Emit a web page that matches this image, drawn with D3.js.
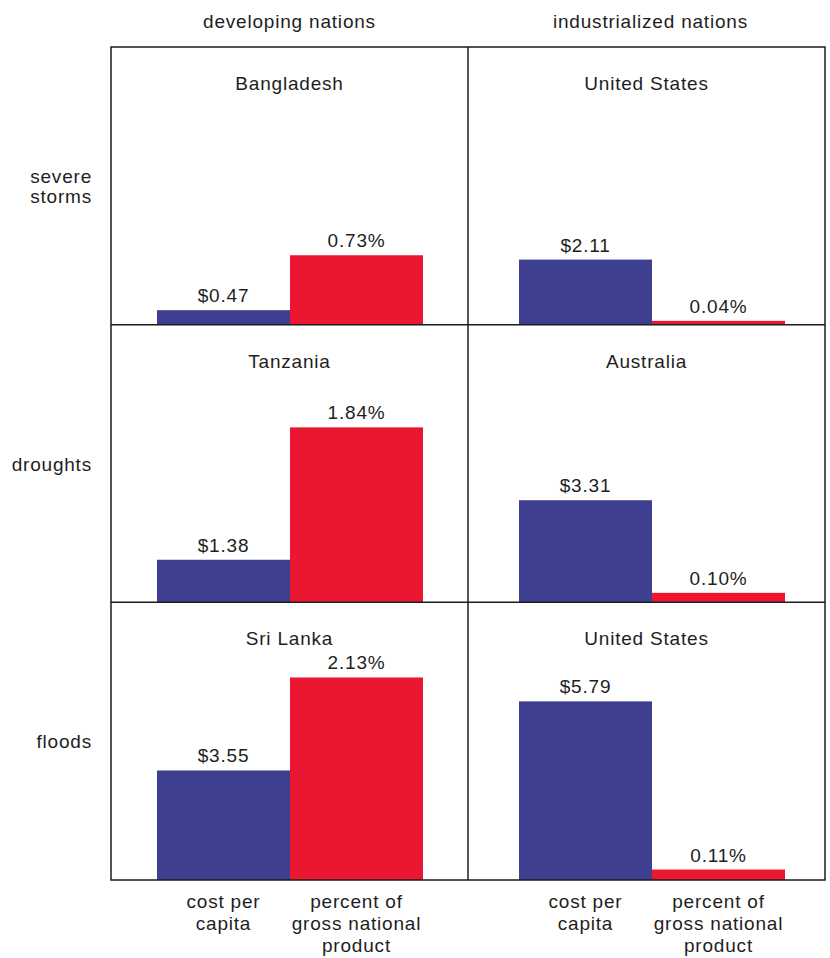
<!DOCTYPE html>
<html>
<head>
<meta charset="utf-8">
<script src="https://cdn.jsdelivr.net/npm/d3@7"></script>
<style>
  html, body { margin: 0; padding: 0; background: #fff; }
  svg { display: block; }
  text { font-family: "Liberation Sans", Arial, Helvetica, sans-serif; fill: #1e1e1e; letter-spacing: 0.8px; }
</style>
</head>
<body>
<svg id="chart" width="830" height="958"></svg>
<script>
// Economic cost of natural disasters: per-capita cost and share of GNP
const columns = ["developing nations", "industrialized nations"];
const rows = [["severe", "storms"], ["droughts"], ["floods"]];
const countries = [
  ["Bangladesh", "United States"],
  ["Tanzania", "Australia"],
  ["Sri Lanka", "United States"]
];
const costPerCapita = [
  [0.47, 2.11],
  [1.38, 3.31],
  [3.55, 5.79]
];
const percentGNP = [
  [0.73, 0.04],
  [1.84, 0.10],
  [2.13, 0.11]
];
const metrics = ["cost", "gnp"];
const metricLabels = [["cost per", "capita"], ["percent of", "gross national", "product"]];

const blue = "#3f3f91";
const red = "#eb1730";
const ink = "#1c1c1c";

const frame = { left: 111, right: 825, top: 47, bottom: 880 };

const svg = d3.select("#chart");

const colScale = d3.scaleBand().domain(d3.range(columns.length)).range([frame.left, frame.right]);
const rowScale = d3.scaleBand().domain(d3.range(rows.length)).range([frame.top, frame.bottom]);
const rowH = rowScale.bandwidth();

// Bar slots inside each panel (the right-hand panels sit a little further in)
const barInset = [46, 51];
const barScales = barInset.map(m => d3.scaleBand().domain(metrics).range([m, m + 266]).padding(0));

// Separate value scales for dollars and percent of GNP
const yCost = d3.scaleLinear().domain([0, 9]).range([0, rowH]);
const yGnp = d3.scaleLinear().domain([0, 2.92]).range([0, rowH]);

const fmtCost = d => "$" + d3.format(".2f")(d);
const fmtGnp = d => d3.format(".2f")(d) + "%";

// Column headers
svg.selectAll("text.col-head")
  .data(columns)
  .join("text")
  .attr("class", "col-head")
  .attr("x", (d, i) => colScale(i) + colScale.bandwidth() / 2 + (i === 1 ? 4 : 0))
  .attr("y", 28)
  .attr("text-anchor", "middle")
  .attr("font-size", 19)
  .text(d => d);

// Row labels
rows.forEach((lines, r) => {
  const cy = rowScale(r) + rowH / 2;
  svg.append("g").selectAll("text")
    .data(lines)
    .join("text")
    .attr("x", 92)
    .attr("y", (d, i) => cy + 7 + (i - (lines.length - 1) / 2) * 20)
    .attr("text-anchor", "end")
    .attr("font-size", 19)
    .text(d => d);
});

// Panels
rows.forEach((_, r) => {
  columns.forEach((__, c) => {
    const x0 = colScale(c);
    const top = rowScale(r);
    const base = top + rowH;
    const bx = barScales[c];
    const g = svg.append("g").attr("transform", `translate(${x0},0)`);

    g.append("text")
      .attr("x", colScale.bandwidth() / 2)
      .attr("y", top + 43)
      .attr("text-anchor", "middle")
      .attr("font-size", 19)
      .text(countries[r][c]);

    const bars = [
      { key: "cost", h: yCost(costPerCapita[r][c]), color: blue, label: fmtCost(costPerCapita[r][c]) },
      { key: "gnp", h: yGnp(percentGNP[r][c]), color: red, label: fmtGnp(percentGNP[r][c]) }
    ];

    g.selectAll("rect.bar")
      .data(bars)
      .join("rect")
      .attr("class", "bar")
      .attr("x", d => bx(d.key))
      .attr("width", bx.bandwidth())
      .attr("y", d => base - d.h)
      .attr("height", d => d.h)
      .attr("fill", d => d.color);

    g.selectAll("text.val")
      .data(bars)
      .join("text")
      .attr("class", "val")
      .attr("x", d => bx(d.key) + bx.bandwidth() / 2)
      .attr("y", d => base - d.h - 8)
      .attr("text-anchor", "middle")
      .attr("font-size", 19)
      .text(d => d.label);
  });
});

// Frame and dividers
const lines = svg.append("g").attr("stroke", ink).attr("stroke-width", 1.5).attr("fill", "none");
lines.append("rect")
  .attr("x", frame.left).attr("y", frame.top)
  .attr("width", frame.right - frame.left).attr("height", frame.bottom - frame.top);
lines.append("line")
  .attr("x1", colScale(1)).attr("x2", colScale(1))
  .attr("y1", frame.top).attr("y2", frame.bottom);
d3.range(1, rows.length).forEach(r => {
  lines.append("line")
    .attr("x1", frame.left).attr("x2", frame.right)
    .attr("y1", rowScale(r)).attr("y2", rowScale(r));
});

// Metric labels beneath each column of bars
columns.forEach((_, c) => {
  const bx = barScales[c];
  metrics.forEach((m, k) => {
    svg.append("g").selectAll("text")
      .data(metricLabels[k])
      .join("text")
      .attr("x", colScale(c) + bx(m) + bx.bandwidth() / 2)
      .attr("y", (d, i) => frame.bottom + 28 + i * 22)
      .attr("text-anchor", "middle")
      .attr("font-size", 19)
      .text(d => d);
  });
});
</script>
</body>
</html>
